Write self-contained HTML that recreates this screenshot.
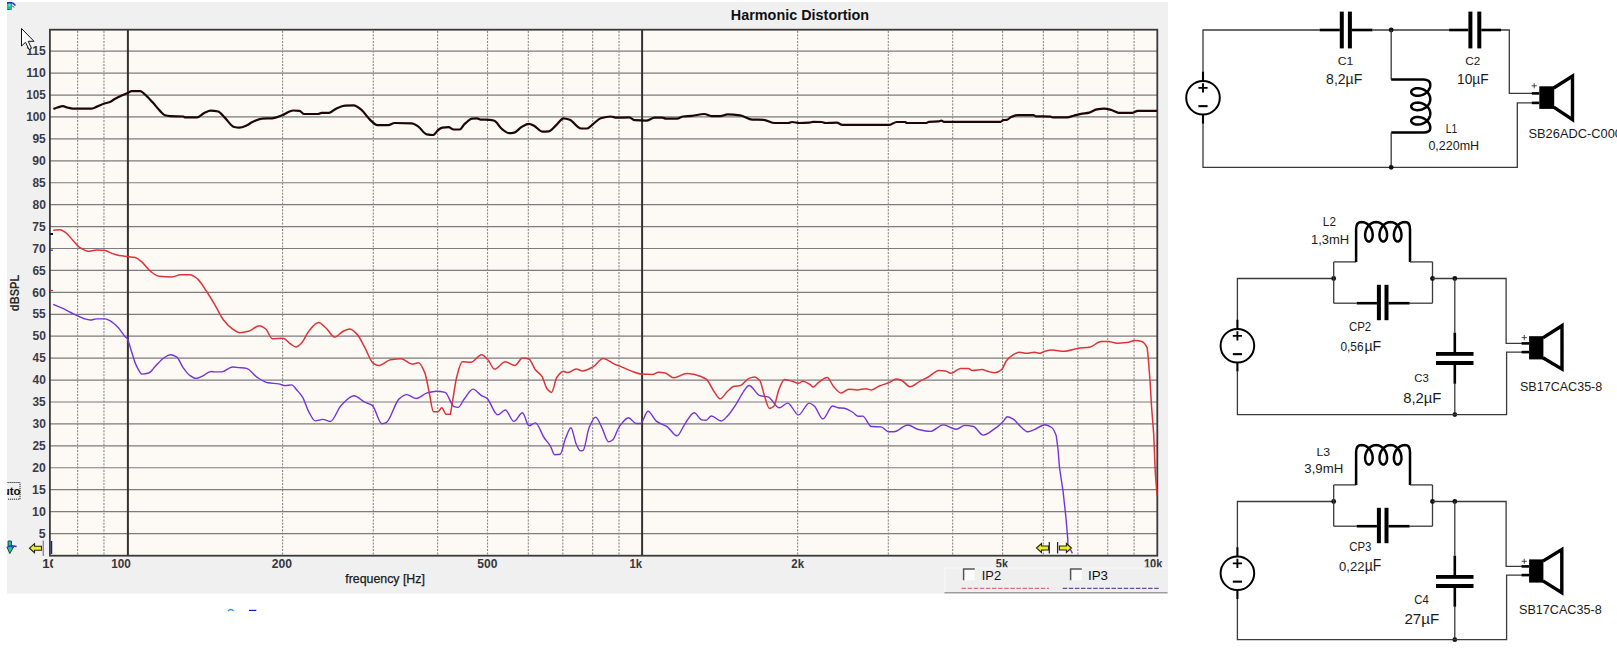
<!DOCTYPE html>
<html><head><meta charset="utf-8"><style>
html,body{margin:0;padding:0;background:#fff;}
body{width:1617px;height:651px;overflow:hidden;}
svg{display:block;}
</style></head><body>
<svg width="1617" height="651" viewBox="0 0 1617 651">
<rect width="1617" height="651" fill="#fff"/>
<rect x="7" y="2" width="1161" height="591.7" fill="#f0f0f0"/>
<rect x="50" y="30" width="1107.5" height="525.5" fill="#fdf9f4"/>
<line x1="50" y1="533.53" x2="1157" y2="533.53" stroke="#7c7c7c" stroke-width="1.2"/>
<line x1="50" y1="511.60" x2="1157" y2="511.60" stroke="#7c7c7c" stroke-width="1.2"/>
<line x1="50" y1="489.68" x2="1157" y2="489.68" stroke="#7c7c7c" stroke-width="1.2"/>
<line x1="50" y1="467.75" x2="1157" y2="467.75" stroke="#7c7c7c" stroke-width="1.2"/>
<line x1="50" y1="445.83" x2="1157" y2="445.83" stroke="#7c7c7c" stroke-width="1.2"/>
<line x1="50" y1="423.90" x2="1157" y2="423.90" stroke="#7c7c7c" stroke-width="1.2"/>
<line x1="50" y1="401.98" x2="1157" y2="401.98" stroke="#7c7c7c" stroke-width="1.2"/>
<line x1="50" y1="380.05" x2="1157" y2="380.05" stroke="#7c7c7c" stroke-width="1.2"/>
<line x1="50" y1="358.13" x2="1157" y2="358.13" stroke="#7c7c7c" stroke-width="1.2"/>
<line x1="50" y1="336.20" x2="1157" y2="336.20" stroke="#7c7c7c" stroke-width="1.2"/>
<line x1="50" y1="314.28" x2="1157" y2="314.28" stroke="#7c7c7c" stroke-width="1.2"/>
<line x1="50" y1="292.35" x2="1157" y2="292.35" stroke="#7c7c7c" stroke-width="1.2"/>
<line x1="50" y1="270.43" x2="1157" y2="270.43" stroke="#7c7c7c" stroke-width="1.2"/>
<line x1="50" y1="248.50" x2="1157" y2="248.50" stroke="#7c7c7c" stroke-width="1.2"/>
<line x1="50" y1="226.58" x2="1157" y2="226.58" stroke="#7c7c7c" stroke-width="1.2"/>
<line x1="50" y1="204.65" x2="1157" y2="204.65" stroke="#7c7c7c" stroke-width="1.2"/>
<line x1="50" y1="182.73" x2="1157" y2="182.73" stroke="#7c7c7c" stroke-width="1.2"/>
<line x1="50" y1="160.80" x2="1157" y2="160.80" stroke="#7c7c7c" stroke-width="1.2"/>
<line x1="50" y1="138.88" x2="1157" y2="138.88" stroke="#7c7c7c" stroke-width="1.2"/>
<line x1="50" y1="116.95" x2="1157" y2="116.95" stroke="#7c7c7c" stroke-width="1.2"/>
<line x1="50" y1="95.03" x2="1157" y2="95.03" stroke="#7c7c7c" stroke-width="1.2"/>
<line x1="50" y1="73.10" x2="1157" y2="73.10" stroke="#7c7c7c" stroke-width="1.2"/>
<line x1="50" y1="51.18" x2="1157" y2="51.18" stroke="#7c7c7c" stroke-width="1.2"/>
<line x1="77.62" y1="31" x2="77.62" y2="555" stroke="#8a8a8a" stroke-width="1.1" stroke-dasharray="2 1.3"/>
<line x1="103.96" y1="31" x2="103.96" y2="555" stroke="#8a8a8a" stroke-width="1.1" stroke-dasharray="2 1.3"/>
<line x1="282.58" y1="31" x2="282.58" y2="555" stroke="#8a8a8a" stroke-width="1.1" stroke-dasharray="2 1.3"/>
<line x1="373.27" y1="31" x2="373.27" y2="555" stroke="#8a8a8a" stroke-width="1.1" stroke-dasharray="2 1.3"/>
<line x1="437.62" y1="31" x2="437.62" y2="555" stroke="#8a8a8a" stroke-width="1.1" stroke-dasharray="2 1.3"/>
<line x1="487.53" y1="31" x2="487.53" y2="555" stroke="#8a8a8a" stroke-width="1.1" stroke-dasharray="2 1.3"/>
<line x1="528.32" y1="31" x2="528.32" y2="555" stroke="#8a8a8a" stroke-width="1.1" stroke-dasharray="2 1.3"/>
<line x1="562.80" y1="31" x2="562.80" y2="555" stroke="#8a8a8a" stroke-width="1.1" stroke-dasharray="2 1.3"/>
<line x1="592.67" y1="31" x2="592.67" y2="555" stroke="#8a8a8a" stroke-width="1.1" stroke-dasharray="2 1.3"/>
<line x1="619.01" y1="31" x2="619.01" y2="555" stroke="#8a8a8a" stroke-width="1.1" stroke-dasharray="2 1.3"/>
<line x1="797.63" y1="31" x2="797.63" y2="555" stroke="#8a8a8a" stroke-width="1.1" stroke-dasharray="2 1.3"/>
<line x1="888.32" y1="31" x2="888.32" y2="555" stroke="#8a8a8a" stroke-width="1.1" stroke-dasharray="2 1.3"/>
<line x1="952.67" y1="31" x2="952.67" y2="555" stroke="#8a8a8a" stroke-width="1.1" stroke-dasharray="2 1.3"/>
<line x1="1002.58" y1="31" x2="1002.58" y2="555" stroke="#8a8a8a" stroke-width="1.1" stroke-dasharray="2 1.3"/>
<line x1="1043.37" y1="31" x2="1043.37" y2="555" stroke="#8a8a8a" stroke-width="1.1" stroke-dasharray="2 1.3"/>
<line x1="1077.85" y1="31" x2="1077.85" y2="555" stroke="#8a8a8a" stroke-width="1.1" stroke-dasharray="2 1.3"/>
<line x1="1107.72" y1="31" x2="1107.72" y2="555" stroke="#8a8a8a" stroke-width="1.1" stroke-dasharray="2 1.3"/>
<line x1="1134.06" y1="31" x2="1134.06" y2="555" stroke="#8a8a8a" stroke-width="1.1" stroke-dasharray="2 1.3"/>
<line x1="127.90" y1="30" x2="127.90" y2="556" stroke="#333" stroke-width="2"/>
<line x1="642.10" y1="30" x2="642.10" y2="556" stroke="#333" stroke-width="2"/>
<rect x="49.9" y="29.7" width="1107.4" height="526" fill="none" stroke="#3a3a3a" stroke-width="1.8"/>
<path d="M53.20,304.30 C56.20,305.60 59.20,306.81 62.20,308.20 C65.07,309.53 67.93,311.08 70.80,312.50 C72.97,313.57 75.13,314.70 77.30,315.70 C79.43,316.69 81.57,317.86 83.70,318.50 C85.87,319.15 88.03,320.00 90.20,320.00 C92.33,320.00 94.47,318.90 96.60,318.90 C99.47,318.90 102.33,318.90 105.20,318.90 C107.00,318.90 108.80,320.11 110.60,321.10 C113.10,322.48 115.60,324.93 118.10,327.50 C120.60,330.07 123.10,334.59 125.60,337.20 C126.13,337.76 126.67,337.88 127.20,338.60 C128.63,340.54 130.07,347.20 131.50,351.50 C132.93,355.80 134.37,361.51 135.80,364.40 C137.93,368.70 140.07,374.10 142.20,374.10 C144.37,374.10 146.53,373.63 148.70,373.00 C150.83,372.38 152.97,368.73 155.10,366.60 C157.97,363.73 160.83,359.93 163.70,358.00 C165.87,356.54 168.03,354.70 170.20,354.70 C172.33,354.70 174.47,355.69 176.60,356.90 C178.77,358.13 180.93,364.61 183.10,367.60 C185.23,370.54 187.37,373.72 189.50,375.20 C191.67,376.71 193.83,378.40 196.00,378.40 C198.13,378.40 200.27,377.10 202.40,376.20 C205.27,374.99 208.13,371.50 211.00,371.50 C212.43,371.50 213.87,371.90 215.30,371.90 C217.47,371.90 219.63,371.90 221.80,371.90 C225.37,371.90 228.93,367.00 232.50,367.00 C234.67,367.00 236.83,367.39 239.00,367.60 C241.50,367.85 244.00,367.93 246.50,368.40 C250.07,369.08 253.63,375.16 257.20,377.40 C260.80,379.66 264.40,382.19 268.00,382.80 C271.57,383.41 275.13,383.37 278.70,383.90 C280.87,384.22 283.03,385.60 285.20,385.60 C287.33,385.60 289.47,384.90 291.60,384.90 C293.40,384.90 295.20,388.24 297.00,390.20 C298.80,392.16 300.60,393.91 302.40,396.80 C304.53,400.23 306.67,408.06 308.80,411.80 C310.97,415.60 313.13,420.90 315.30,420.90 C317.80,420.90 320.30,419.40 322.80,419.40 C325.30,419.40 327.80,421.50 330.30,421.50 C333.90,421.50 337.50,409.00 341.10,405.40 C345.40,401.10 349.70,395.70 354.00,395.70 C357.57,395.70 361.13,400.43 364.70,402.20 C367.23,403.46 369.77,403.65 372.30,405.40 C375.50,407.61 378.70,423.70 381.90,423.70 C383.33,423.70 384.77,423.24 386.20,422.60 C390.50,420.67 394.80,402.62 399.10,398.90 C401.63,396.71 404.17,394.60 406.70,394.60 C409.90,394.60 413.10,398.50 416.30,398.50 C419.90,398.50 423.50,393.82 427.10,392.90 C430.23,392.10 433.37,391.30 436.50,391.30 C439.37,391.30 442.23,391.72 445.10,392.40 C447.97,393.08 450.83,405.03 453.70,406.30 C455.13,406.93 456.57,407.40 458.00,407.40 C460.13,407.40 462.27,401.42 464.40,398.80 C467.27,395.28 470.13,389.10 473.00,389.10 C475.87,389.10 478.73,393.84 481.60,395.60 C483.40,396.71 485.20,397.00 487.00,398.40 C490.57,401.17 494.13,414.90 497.70,414.90 C500.23,414.90 502.77,410.00 505.30,410.00 C508.17,410.00 511.03,421.40 513.90,421.40 C516.77,421.40 519.63,412.80 522.50,412.80 C524.63,412.80 526.77,425.70 528.90,425.70 C531.07,425.70 533.23,422.90 535.40,422.90 C538.27,422.90 541.13,433.20 544.00,437.50 C546.13,440.70 548.27,442.67 550.40,446.10 C551.83,448.40 553.27,454.70 554.70,454.70 C556.50,454.70 558.30,454.56 560.10,454.30 C561.90,454.04 563.70,442.87 565.50,438.60 C567.30,434.33 569.10,427.80 570.90,427.80 C572.67,427.80 574.43,440.28 576.20,444.00 C577.63,447.02 579.07,450.90 580.50,450.90 C581.37,450.90 582.23,450.72 583.10,450.40 C585.10,449.67 587.10,432.38 589.10,427.80 C591.27,422.84 593.43,417.10 595.60,417.10 C597.73,417.10 599.87,423.78 602.00,427.80 C604.17,431.88 606.33,441.80 608.50,441.80 C609.93,441.80 611.37,440.83 612.80,439.70 C614.93,438.02 617.07,429.59 619.20,426.80 C622.33,422.70 625.47,417.70 628.60,417.70 C631.10,417.70 633.60,423.50 636.10,423.50 C637.53,423.50 638.97,423.50 640.40,423.50 C642.93,423.50 645.47,411.30 648.00,411.30 C650.87,411.30 653.73,419.38 656.60,421.40 C660.17,423.92 663.73,424.47 667.30,426.80 C670.53,428.91 673.77,435.80 677.00,435.80 C679.50,435.80 682.00,427.95 684.50,424.60 C687.73,420.26 690.97,412.80 694.20,412.80 C696.70,412.80 699.20,419.48 701.70,419.90 C703.13,420.14 704.57,420.30 706.00,420.30 C707.80,420.30 709.60,416.00 711.40,416.00 C714.63,416.00 717.87,421.00 721.10,421.00 C723.23,421.00 725.37,418.12 727.50,416.00 C730.37,413.15 733.23,408.55 736.10,404.20 C738.63,400.36 741.17,394.67 743.70,391.30 C745.47,388.95 747.23,385.50 749.00,385.50 C752.60,385.50 756.20,394.54 759.80,395.60 C762.67,396.44 765.53,396.25 768.40,397.10 C771.97,398.16 775.53,407.80 779.10,407.80 C781.97,407.80 784.83,403.10 787.70,403.10 C791.30,403.10 794.90,414.90 798.50,414.90 C802.07,414.90 805.63,403.10 809.20,403.10 C810.90,403.10 812.60,404.60 814.30,406.00 C817.17,408.36 820.03,418.90 822.90,418.90 C826.13,418.90 829.37,406.00 832.60,406.00 C834.40,406.00 836.20,407.47 838.00,407.70 C840.13,407.97 842.27,407.91 844.40,408.20 C847.27,408.59 850.13,410.82 853.00,412.50 C854.80,413.55 856.60,416.30 858.40,416.30 C859.83,416.30 861.27,416.10 862.70,416.10 C865.57,416.10 868.43,426.27 871.30,426.50 C874.53,426.76 877.77,426.65 881.00,426.90 C883.50,427.09 886.00,431.80 888.50,431.80 C890.30,431.80 892.10,431.80 893.90,431.80 C898.53,431.80 903.17,425.00 907.80,425.00 C911.03,425.00 914.27,428.41 917.50,429.20 C921.80,430.25 926.10,431.40 930.40,431.40 C934.70,431.40 939.00,424.90 943.30,424.90 C947.60,424.90 951.90,429.20 956.20,429.20 C959.07,429.20 961.93,425.40 964.80,425.40 C967.67,425.40 970.53,425.86 973.40,426.50 C976.63,427.22 979.87,435.10 983.10,435.10 C987.03,435.10 990.97,431.22 994.90,428.60 C997.43,426.91 999.97,424.62 1002.50,422.20 C1004.17,420.61 1005.83,416.70 1007.50,416.70 C1009.30,416.70 1011.10,417.86 1012.90,418.90 C1015.77,420.56 1018.63,425.20 1021.50,427.50 C1023.63,429.21 1025.77,431.80 1027.90,431.80 C1030.07,431.80 1032.23,430.44 1034.40,429.60 C1037.97,428.21 1041.53,424.70 1045.10,424.70 C1047.27,424.70 1049.43,425.99 1051.60,427.50 C1053.17,428.59 1054.73,431.48 1056.30,436.10 L1058.00,449.00 L1059.50,467.60 L1063.10,491.60 L1065.90,517.30 L1067.80,539.40 L1067.80,545.90 C1069.33,545.90 1070.87,550.83 1072.40,553.30" fill="none" stroke="#7434dc" stroke-width="1.4" stroke-linejoin="round"/>
<path d="M53.20,230.30 C55.50,230.10 57.80,229.70 60.10,229.70 C62.23,229.70 64.37,231.72 66.50,233.30 C68.67,234.91 70.83,238.12 73.00,240.40 C75.50,243.03 78.00,246.50 80.50,248.00 C83.00,249.50 85.50,251.20 88.00,251.20 C90.87,251.20 93.73,250.10 96.60,250.10 C99.47,250.10 102.33,250.26 105.20,250.50 C107.37,250.68 109.53,252.54 111.70,253.30 C114.20,254.17 116.70,255.05 119.20,255.50 C122.07,256.01 124.93,256.23 127.80,256.60 C130.30,256.93 132.80,257.05 135.30,257.60 C137.47,258.08 139.63,260.12 141.80,261.90 C144.67,264.25 147.53,269.00 150.40,271.20 C153.27,273.40 156.13,276.01 159.00,276.30 C163.30,276.73 167.60,277.00 171.90,277.00 C174.77,277.00 177.63,274.80 180.50,274.80 C183.73,274.80 186.97,274.80 190.20,274.80 C192.70,274.80 195.20,277.07 197.70,279.10 C200.57,281.42 203.43,286.73 206.30,291.00 C209.17,295.27 212.03,300.07 214.90,304.90 C217.77,309.73 220.63,316.35 223.50,320.00 C226.37,323.65 229.23,326.64 232.10,328.60 C234.73,330.40 237.37,332.70 240.00,332.70 C242.87,332.70 245.73,331.94 248.60,331.20 C252.20,330.27 255.80,325.80 259.40,325.80 C261.53,325.80 263.67,327.40 265.80,329.00 C267.97,330.62 270.13,338.70 272.30,338.70 C275.87,338.70 279.43,338.30 283.00,338.30 C285.53,338.30 288.07,342.40 290.60,344.00 C292.37,345.12 294.13,346.90 295.90,346.90 C298.07,346.90 300.23,344.18 302.40,341.90 C304.53,339.65 306.67,333.67 308.80,331.20 C312.03,327.45 315.27,322.60 318.50,322.60 C321.00,322.60 323.50,325.87 326.00,328.00 C328.87,330.45 331.73,337.00 334.60,337.00 C337.47,337.00 340.33,332.49 343.20,331.20 C345.37,330.22 347.53,329.00 349.70,329.00 C352.20,329.00 354.70,331.86 357.20,334.40 C359.70,336.94 362.20,342.82 364.70,347.30 C367.57,352.44 370.43,361.48 373.30,363.40 C375.10,364.60 376.90,365.60 378.70,365.60 C382.63,365.60 386.57,360.46 390.50,359.80 C394.10,359.19 397.70,358.70 401.30,358.70 C404.87,358.70 408.43,364.10 412.00,364.10 C414.17,364.10 416.33,362.80 418.50,362.80 C420.63,362.80 422.77,368.04 424.90,373.10 C426.33,376.50 427.77,386.05 429.20,392.50 C430.63,398.95 432.07,411.80 433.50,411.80 C434.93,411.80 436.37,411.80 437.80,411.80 C439.13,411.80 440.47,407.80 441.80,407.80 C443.23,407.80 444.67,414.30 446.10,414.30 C447.53,414.30 448.97,414.30 450.40,414.30 L452.60,401.00 C454.03,392.54 455.47,381.43 456.90,376.20 C458.70,369.64 460.50,361.80 462.30,361.80 C465.17,361.80 468.03,362.30 470.90,362.30 C474.47,362.30 478.03,354.70 481.60,354.70 C483.77,354.70 485.93,357.84 488.10,360.10 C490.23,362.33 492.37,369.10 494.50,369.10 C498.10,369.10 501.70,361.80 505.30,361.80 C508.50,361.80 511.70,365.50 514.90,365.50 C517.43,365.50 519.97,358.00 522.50,358.00 C524.63,358.00 526.77,358.39 528.90,359.00 C531.07,359.62 533.23,367.09 535.40,369.80 C537.53,372.46 539.67,373.19 541.80,376.20 C543.60,378.74 545.40,387.01 547.20,389.10 C548.63,390.77 550.07,392.40 551.50,392.40 C553.30,392.40 555.10,379.83 556.90,377.30 C559.03,374.30 561.17,371.30 563.30,371.30 C564.73,371.30 566.17,372.60 567.60,372.60 C570.47,372.60 573.33,369.10 576.20,369.10 C578.37,369.10 580.53,370.90 582.70,370.90 C586.27,370.90 589.83,368.54 593.40,366.60 C596.63,364.84 599.87,358.40 603.10,358.40 C607.03,358.40 610.97,362.82 614.90,364.40 C616.60,365.08 618.30,365.45 620.00,366.10 C623.60,367.47 627.20,369.61 630.80,370.90 C634.37,372.18 637.93,373.86 641.50,374.10 C645.10,374.34 648.70,374.50 652.30,374.50 C654.43,374.50 656.57,372.20 658.70,372.20 C660.87,372.20 663.03,372.56 665.20,373.00 C668.07,373.58 670.93,377.70 673.80,377.70 C678.10,377.70 682.40,373.40 686.70,373.40 C689.57,373.40 692.43,374.07 695.30,374.70 C698.87,375.48 702.43,376.72 706.00,379.00 C708.87,380.83 711.73,388.54 714.60,392.40 C716.40,394.82 718.20,398.80 720.00,398.80 C722.50,398.80 725.00,393.47 727.50,391.30 C729.67,389.42 731.83,386.77 734.00,386.30 C736.13,385.84 738.27,385.96 740.40,385.50 C743.27,384.88 746.13,379.59 749.00,378.40 C750.80,377.65 752.60,376.90 754.40,376.90 C756.20,376.90 758.00,378.51 759.80,380.50 C761.23,382.09 762.67,390.36 764.10,394.50 C765.90,399.70 767.70,408.50 769.50,408.50 C770.93,408.50 772.37,407.57 773.80,406.30 C775.57,404.74 777.33,393.16 779.10,389.10 C780.90,384.97 782.70,379.50 784.50,379.50 C787.00,379.50 789.50,380.53 792.00,381.20 C794.17,381.78 796.33,383.30 798.50,383.30 C799.93,383.30 801.37,381.20 802.80,381.20 C805.20,381.20 807.60,383.09 810.00,384.50 C811.07,385.13 812.13,387.10 813.20,387.10 C815.00,387.10 816.80,383.62 818.60,382.40 C821.47,380.45 824.33,377.60 827.20,377.60 C829.37,377.60 831.53,384.40 833.70,386.70 C836.20,389.35 838.70,393.10 841.20,393.10 C843.70,393.10 846.20,389.20 848.70,389.20 C851.57,389.20 854.43,389.90 857.30,389.90 C860.17,389.90 863.03,388.80 865.90,388.80 C867.70,388.80 869.50,389.90 871.30,389.90 C873.80,389.90 876.30,387.23 878.80,386.20 C882.40,384.72 886.00,383.91 889.60,382.40 C891.73,381.51 893.87,379.10 896.00,379.10 C897.80,379.10 899.60,379.62 901.40,380.20 C904.27,381.12 907.13,386.70 910.00,386.70 C913.23,386.70 916.47,383.00 919.70,381.30 C922.57,379.79 925.43,378.57 928.30,377.00 C931.87,375.04 935.43,370.50 939.00,370.50 C941.17,370.50 943.33,370.72 945.50,371.00 C947.30,371.23 949.10,373.30 950.90,373.30 C954.10,373.30 957.30,368.40 960.50,368.40 C963.03,368.40 965.57,368.40 968.10,368.40 C969.53,368.40 970.97,370.50 972.40,370.50 C975.60,370.50 978.80,369.50 982.00,369.50 C984.17,369.50 986.33,371.11 988.50,371.60 C990.63,372.08 992.77,372.70 994.90,372.70 C997.07,372.70 999.23,371.41 1001.40,369.90 C1003.07,368.74 1004.73,362.84 1006.40,360.80 C1008.57,358.15 1010.73,356.02 1012.90,354.80 C1015.03,353.60 1017.17,352.20 1019.30,352.20 C1021.83,352.20 1024.37,353.30 1026.90,353.30 C1029.40,353.30 1031.90,352.20 1034.40,352.20 C1036.20,352.20 1038.00,353.30 1039.80,353.30 C1041.57,353.30 1043.33,351.62 1045.10,351.20 C1047.27,350.69 1049.43,350.10 1051.60,350.10 C1055.90,350.10 1060.20,351.20 1064.50,351.20 C1068.80,351.20 1073.10,349.05 1077.40,348.40 C1081.70,347.75 1086.00,347.71 1090.30,346.90 C1093.87,346.23 1097.43,341.50 1101.00,341.50 C1103.50,341.50 1106.00,341.50 1108.50,341.50 C1111.37,341.50 1114.23,343.20 1117.10,343.20 C1120.33,343.20 1123.57,342.92 1126.80,342.60 C1129.67,342.31 1132.53,340.40 1135.40,340.40 C1137.53,340.40 1139.67,340.86 1141.80,341.50 C1143.60,342.04 1145.40,344.09 1147.20,347.90 L1148.30,358.70 L1150.00,380.20 L1151.50,406.00 L1153.70,433.90 L1155.20,471.30 L1157.00,495.20" fill="none" stroke="#dd3439" stroke-width="1.5" stroke-linejoin="round"/>
<path d="M53.40,109.10 C54.73,108.57 56.07,107.90 57.40,107.50 C59.23,106.96 61.07,106.20 62.90,106.20 C64.37,106.20 65.83,107.13 67.30,107.50 C69.13,107.96 70.97,108.70 72.80,108.70 C78.80,108.70 84.80,108.70 90.80,108.70 C92.87,108.70 94.93,107.37 97.00,106.60 C99.47,105.68 101.93,104.26 104.40,103.50 C106.03,103.00 107.67,102.87 109.30,102.30 C110.97,101.71 112.63,100.12 114.30,99.20 C116.77,97.83 119.23,96.60 121.70,95.50 C123.77,94.58 125.83,93.93 127.90,93.00 C129.13,92.44 130.37,91.10 131.60,91.10 C134.47,91.10 137.33,91.10 140.20,91.10 C141.47,91.10 142.73,92.59 144.00,93.60 C146.87,95.89 149.73,99.20 152.60,102.30 C155.07,104.97 157.53,108.43 160.00,110.90 C161.67,112.57 163.33,114.84 165.00,115.30 C166.63,115.75 168.27,116.02 169.90,116.10 C174.43,116.33 178.97,116.24 183.50,116.50 C183.93,116.52 184.37,117.40 184.80,117.40 C188.90,117.40 193.00,117.40 197.10,117.40 C199.60,117.40 202.10,113.90 204.60,112.80 C206.63,111.90 208.67,110.70 210.70,110.70 C213.20,110.70 215.70,111.02 218.20,111.50 C220.23,111.89 222.27,115.15 224.30,117.10 C227.60,120.26 230.90,126.29 234.20,127.00 C235.87,127.36 237.53,127.60 239.20,127.60 C241.93,127.60 244.67,126.22 247.40,125.10 C249.07,124.42 250.73,122.74 252.40,122.00 C255.70,120.54 259.00,118.78 262.30,118.60 C265.60,118.42 268.90,118.48 272.20,118.30 C275.50,118.12 278.80,116.56 282.10,115.30 C284.57,114.36 287.03,112.37 289.50,111.50 C290.73,111.06 291.97,110.50 293.20,110.50 C295.27,110.50 297.33,110.66 299.40,110.90 C301.03,111.09 302.67,114.00 304.30,114.00 C308.83,114.00 313.37,114.00 317.90,114.00 C319.13,114.00 320.37,112.80 321.60,112.80 C324.10,112.80 326.60,112.80 329.10,112.80 C331.57,112.80 334.03,109.41 336.50,108.40 C339.37,107.22 342.23,105.88 345.10,105.70 C348.00,105.52 350.90,105.40 353.80,105.40 C356.27,105.40 358.73,107.80 361.20,109.70 C364.10,111.93 367.00,116.99 369.90,119.60 C372.37,121.82 374.83,125.10 377.30,125.10 C381.00,125.10 384.70,125.10 388.40,125.10 C390.47,125.10 392.53,123.00 394.60,123.00 C400.37,123.00 406.13,123.11 411.90,123.30 C413.97,123.37 416.03,125.06 418.10,126.40 C421.00,128.28 423.90,133.89 426.80,134.40 C428.87,134.76 430.93,135.00 433.00,135.00 C434.90,135.00 436.80,130.77 438.70,129.50 C439.93,128.67 441.17,127.74 442.40,127.60 C444.47,127.36 446.53,127.20 448.60,127.20 C450.27,127.20 451.93,129.50 453.60,129.50 C455.63,129.50 457.67,129.50 459.70,129.50 C461.37,129.50 463.03,125.36 464.70,123.90 C467.17,121.74 469.63,118.87 472.10,118.60 C473.77,118.42 475.43,118.30 477.10,118.30 C478.33,118.30 479.57,119.55 480.80,119.60 C483.67,119.73 486.53,119.68 489.40,119.80 C491.07,119.87 492.73,120.24 494.40,120.80 C496.87,121.63 499.33,127.03 501.80,128.90 C504.27,130.77 506.73,133.20 509.20,133.20 C510.87,133.20 512.53,132.95 514.20,132.60 C516.67,132.09 519.13,128.33 521.60,127.00 C524.07,125.67 526.53,123.90 529.00,123.90 C530.67,123.90 532.33,124.98 534.00,125.80 C536.87,127.20 539.73,131.70 542.60,131.70 C544.67,131.70 546.73,131.55 548.80,131.30 C551.27,131.00 553.73,127.26 556.20,125.10 C558.67,122.94 561.13,118.30 563.60,118.30 C565.67,118.30 567.73,119.04 569.80,119.80 C573.50,121.17 577.20,128.50 580.90,128.50 C582.97,128.50 585.03,128.50 587.10,128.50 C589.17,128.50 591.23,125.45 593.30,123.90 C595.77,122.05 598.23,119.02 600.70,118.30 C604.00,117.33 607.30,116.50 610.60,116.50 C612.67,116.50 614.73,117.70 616.80,117.70 C620.93,117.70 625.07,117.40 629.20,117.40 C631.10,117.40 633.00,120.07 634.90,120.20 C638.63,120.45 642.37,120.60 646.10,120.60 C648.97,120.60 651.83,117.70 654.70,117.70 C657.20,117.70 659.70,117.70 662.20,117.70 C663.43,117.70 664.67,118.60 665.90,118.60 C669.60,118.60 673.30,118.60 677.00,118.60 C679.07,118.60 681.13,116.74 683.20,116.50 C686.07,116.17 688.93,116.17 691.80,115.90 C695.93,115.50 700.07,114.00 704.20,114.00 C706.67,114.00 709.13,116.10 711.60,116.10 C714.50,116.10 717.40,116.10 720.30,116.10 C722.77,116.10 725.23,114.40 727.70,114.40 C731.83,114.40 735.97,114.80 740.10,115.30 C744.20,115.79 748.30,119.46 752.40,119.60 C756.13,119.73 759.87,119.67 763.60,119.80 C767.30,119.92 771.00,123.00 774.70,123.00 C779.23,123.00 783.77,123.00 788.30,123.00 C789.53,123.00 790.77,122.00 792.00,122.00 C794.50,122.00 797.00,123.00 799.50,123.00 C802.77,123.00 806.03,122.88 809.30,122.70 C810.57,122.63 811.83,121.80 813.10,121.80 C815.97,121.80 818.83,121.88 821.70,122.00 C822.93,122.05 824.17,123.00 825.40,123.00 C829.20,123.00 833.00,122.70 836.80,122.70 C838.63,122.70 840.47,124.80 842.30,124.80 C857.97,124.80 873.63,124.80 889.30,124.80 C891.77,124.80 894.23,122.00 896.70,122.00 C899.60,122.00 902.50,122.00 905.40,122.00 C905.80,122.00 906.20,123.00 906.60,123.00 C913.20,123.00 919.80,123.00 926.40,123.00 C927.23,123.00 928.07,121.86 928.90,121.80 C932.20,121.55 935.50,121.64 938.80,121.40 C939.63,121.34 940.47,120.60 941.30,120.60 C942.10,120.60 942.90,121.80 943.70,121.80 C962.67,121.80 981.63,121.80 1000.60,121.80 C1001.43,121.80 1002.27,120.35 1003.10,120.20 C1004.33,119.97 1005.57,120.03 1006.80,119.80 C1008.40,119.51 1010.00,117.38 1011.60,116.80 C1013.70,116.04 1015.80,115.20 1017.90,115.20 C1023.13,115.20 1028.37,115.20 1033.60,115.20 C1034.30,115.20 1035.00,116.27 1035.70,116.30 C1040.63,116.49 1045.57,116.41 1050.50,116.60 C1051.20,116.63 1051.90,117.30 1052.60,117.30 C1057.50,117.30 1062.40,117.30 1067.30,117.30 C1069.40,117.30 1071.50,116.22 1073.60,115.70 C1076.07,115.09 1078.53,114.37 1081.00,113.90 C1083.80,113.37 1086.60,113.24 1089.40,112.60 C1091.83,112.04 1094.27,109.82 1096.70,109.40 C1099.17,108.97 1101.63,108.60 1104.10,108.60 C1106.53,108.60 1108.97,109.38 1111.40,110.00 C1113.87,110.63 1116.33,112.80 1118.80,112.80 C1123.37,112.80 1127.93,112.80 1132.50,112.80 C1134.23,112.80 1135.97,110.80 1137.70,110.80 C1144.20,110.80 1150.70,110.80 1157.20,110.80" fill="none" stroke="#1e0606" stroke-width="2.2" stroke-linejoin="round"/>
<text x="800" y="20" font-family="'Liberation Sans', sans-serif" font-size="14.4" font-weight="bold" fill="#111" text-anchor="middle">Harmonic Distortion</text>
<text x="38.83" y="537.73" font-family="'Liberation Sans', sans-serif" font-size="12.32" font-weight="bold" fill="#3a3a44" textLength="6.90" lengthAdjust="spacingAndGlyphs">5</text>
<text x="32.05" y="515.80" font-family="'Liberation Sans', sans-serif" font-size="12.14" font-weight="bold" fill="#3a3a44" textLength="13.88" lengthAdjust="spacingAndGlyphs">10</text>
<text x="32.06" y="493.88" font-family="'Liberation Sans', sans-serif" font-size="12.32" font-weight="bold" fill="#3a3a44" textLength="13.67" lengthAdjust="spacingAndGlyphs">15</text>
<text x="32.37" y="471.95" font-family="'Liberation Sans', sans-serif" font-size="12.14" font-weight="bold" fill="#3a3a44" textLength="13.54" lengthAdjust="spacingAndGlyphs">20</text>
<text x="32.38" y="450.03" font-family="'Liberation Sans', sans-serif" font-size="12.14" font-weight="bold" fill="#3a3a44" textLength="13.35" lengthAdjust="spacingAndGlyphs">25</text>
<text x="32.50" y="428.10" font-family="'Liberation Sans', sans-serif" font-size="12.14" font-weight="bold" fill="#3a3a44" textLength="13.41" lengthAdjust="spacingAndGlyphs">30</text>
<text x="32.50" y="406.18" font-family="'Liberation Sans', sans-serif" font-size="12.14" font-weight="bold" fill="#3a3a44" textLength="13.22" lengthAdjust="spacingAndGlyphs">35</text>
<text x="32.62" y="384.25" font-family="'Liberation Sans', sans-serif" font-size="12.14" font-weight="bold" fill="#3a3a44" textLength="13.28" lengthAdjust="spacingAndGlyphs">40</text>
<text x="32.62" y="362.33" font-family="'Liberation Sans', sans-serif" font-size="12.32" font-weight="bold" fill="#3a3a44" textLength="13.10" lengthAdjust="spacingAndGlyphs">45</text>
<text x="32.44" y="340.40" font-family="'Liberation Sans', sans-serif" font-size="12.14" font-weight="bold" fill="#3a3a44" textLength="13.48" lengthAdjust="spacingAndGlyphs">50</text>
<text x="32.44" y="318.48" font-family="'Liberation Sans', sans-serif" font-size="12.32" font-weight="bold" fill="#3a3a44" textLength="13.28" lengthAdjust="spacingAndGlyphs">55</text>
<text x="32.37" y="296.55" font-family="'Liberation Sans', sans-serif" font-size="12.14" font-weight="bold" fill="#3a3a44" textLength="13.54" lengthAdjust="spacingAndGlyphs">60</text>
<text x="32.38" y="274.63" font-family="'Liberation Sans', sans-serif" font-size="12.14" font-weight="bold" fill="#3a3a44" textLength="13.35" lengthAdjust="spacingAndGlyphs">65</text>
<text x="32.31" y="252.70" font-family="'Liberation Sans', sans-serif" font-size="12.14" font-weight="bold" fill="#3a3a44" textLength="13.61" lengthAdjust="spacingAndGlyphs">70</text>
<text x="32.32" y="230.78" font-family="'Liberation Sans', sans-serif" font-size="12.32" font-weight="bold" fill="#3a3a44" textLength="13.41" lengthAdjust="spacingAndGlyphs">75</text>
<text x="32.44" y="208.85" font-family="'Liberation Sans', sans-serif" font-size="12.14" font-weight="bold" fill="#3a3a44" textLength="13.48" lengthAdjust="spacingAndGlyphs">80</text>
<text x="32.44" y="186.93" font-family="'Liberation Sans', sans-serif" font-size="12.14" font-weight="bold" fill="#3a3a44" textLength="13.28" lengthAdjust="spacingAndGlyphs">85</text>
<text x="32.37" y="165.00" font-family="'Liberation Sans', sans-serif" font-size="12.14" font-weight="bold" fill="#3a3a44" textLength="13.54" lengthAdjust="spacingAndGlyphs">90</text>
<text x="32.38" y="143.08" font-family="'Liberation Sans', sans-serif" font-size="12.14" font-weight="bold" fill="#3a3a44" textLength="13.35" lengthAdjust="spacingAndGlyphs">95</text>
<text x="26.19" y="121.15" font-family="'Liberation Sans', sans-serif" font-size="12.14" font-weight="bold" fill="#3a3a44" textLength="19.72" lengthAdjust="spacingAndGlyphs">100</text>
<text x="26.20" y="99.23" font-family="'Liberation Sans', sans-serif" font-size="12.14" font-weight="bold" fill="#3a3a44" textLength="19.54" lengthAdjust="spacingAndGlyphs">105</text>
<text x="26.16" y="77.30" font-family="'Liberation Sans', sans-serif" font-size="12.14" font-weight="bold" fill="#3a3a44" textLength="19.77" lengthAdjust="spacingAndGlyphs">110</text>
<text x="26.17" y="55.38" font-family="'Liberation Sans', sans-serif" font-size="12.32" font-weight="bold" fill="#3a3a44" textLength="19.57" lengthAdjust="spacingAndGlyphs">115</text>
<g transform="translate(19.5,310.7) rotate(-90)"><text x="-0.44" y="-0.20" font-family="'Liberation Sans', sans-serif" font-size="12.41" font-weight="bold" fill="#2a2a2a" textLength="36.31" lengthAdjust="spacingAndGlyphs">dBSPL</text></g>
<rect x="50" y="233" width="3" height="2" fill="#111"/>
<rect x="50" y="249.6" width="3" height="1.2" fill="#3030c0"/>
<rect x="50" y="289.9" width="3" height="1.2" fill="#c03030"/>
<text x="111.19" y="567.70" font-family="'Liberation Sans', sans-serif" font-size="13.14" font-weight="bold" fill="#36363e" textLength="19.62" lengthAdjust="spacingAndGlyphs">100</text>
<text x="271.68" y="567.70" font-family="'Liberation Sans', sans-serif" font-size="13.14" font-weight="bold" fill="#36363e" textLength="20.25" lengthAdjust="spacingAndGlyphs">200</text>
<text x="477.34" y="567.70" font-family="'Liberation Sans', sans-serif" font-size="13.14" font-weight="bold" fill="#36363e" textLength="20.08" lengthAdjust="spacingAndGlyphs">500</text>
<text x="629.52" y="567.70" font-family="'Liberation Sans', sans-serif" font-size="12.69" font-weight="bold" fill="#36363e" textLength="12.61" lengthAdjust="spacingAndGlyphs">1k</text>
<text x="791.30" y="567.70" font-family="'Liberation Sans', sans-serif" font-size="12.69" font-weight="bold" fill="#36363e" textLength="12.73" lengthAdjust="spacingAndGlyphs">2k</text>
<text x="995.87" y="567.70" font-family="'Liberation Sans', sans-serif" font-size="12.69" font-weight="bold" fill="#36363e" textLength="12.15" lengthAdjust="spacingAndGlyphs">5k</text>
<text x="1143.93" y="567.70" font-family="'Liberation Sans', sans-serif" font-size="12.69" font-weight="bold" fill="#36363e" textLength="18.50" lengthAdjust="spacingAndGlyphs">10k</text>
<clipPath id="c10"><rect x="30" y="550" width="23.2" height="25"/></clipPath>
<text x="42.31" y="567.70" font-family="'Liberation Sans', sans-serif" font-size="13.14" font-weight="bold" fill="#333" textLength="14.65" lengthAdjust="spacingAndGlyphs" clip-path="url(#c10)">10</text>
<text x="345.31" y="583.00" font-family="'Liberation Sans', sans-serif" font-size="11.86" fill="#1a1a1a" textLength="79.58" lengthAdjust="spacingAndGlyphs" stroke="#1a1a1a" stroke-width="0.25">frequency [Hz]</text>
<rect x="944.5" y="567.5" width="223" height="25.5" fill="#efefef"/>
<line x1="945" y1="568" x2="1167" y2="568" stroke="#fafafa" stroke-width="1"/>
<line x1="945" y1="568" x2="945" y2="592" stroke="#fafafa" stroke-width="1"/>
<line x1="944.5" y1="592.8" x2="1167.5" y2="592.8" stroke="#7a7a7a" stroke-width="1"/>
<rect x="962.8" y="568.3" width="12" height="12" fill="#fbfbfb"/>
<path d="M963.5999999999999,580.3 V569.0999999999999 H974.8" fill="none" stroke="#555" stroke-width="1.5"/>
<rect x="1069.8" y="568.3" width="12" height="12" fill="#fbfbfb"/>
<path d="M1070.6,580.3 V569.0999999999999 H1081.8" fill="none" stroke="#555" stroke-width="1.5"/>
<text x="981.74" y="579.60" font-family="'Liberation Sans', sans-serif" font-size="13.29" fill="#111" textLength="19.31" lengthAdjust="spacingAndGlyphs">IP2</text>
<text x="1088.00" y="579.60" font-family="'Liberation Sans', sans-serif" font-size="13.29" fill="#111" textLength="20.05" lengthAdjust="spacingAndGlyphs">IP3</text>
<line x1="961.5" y1="588.3" x2="1049" y2="588.3" stroke="#e0707c" stroke-width="1.3" stroke-dasharray="4.5 1.6"/>
<line x1="1062.7" y1="588.3" x2="1159.3" y2="588.3" stroke="#6c4c9c" stroke-width="1.3" stroke-dasharray="4.5 1.6"/>
<path d="M29.5,548.2 L34.5,543.7 V546.2 H41.5 V550.2 H34.5 V552.7 Z" fill="#eeee22" stroke="#262610" stroke-width="1.1"/>
<line x1="43.3" y1="540.5" x2="43.3" y2="556" stroke="#8878c0" stroke-width="1.3"/>
<line x1="51.5" y1="541" x2="51.5" y2="554" stroke="#202080" stroke-width="1.5"/>
<path d="M1036.5,548 L1041.5,543.5 V546 H1048.5 V550 H1041.5 V552.5 Z" fill="#eeee22" stroke="#262610" stroke-width="1.1"/>
<line x1="1049.3" y1="542" x2="1049.3" y2="553.5" stroke="#26265a" stroke-width="1.3"/>
<line x1="1057.6" y1="542" x2="1057.6" y2="553.5" stroke="#26265a" stroke-width="1.3"/>
<path d="M1071.4,548 L1066.4,543.5 V546 H1059.4 V550 H1066.4 V552.5 Z" fill="#eeee22" stroke="#262610" stroke-width="1.1"/>
<path d="M8.1,541 H11.4 V547 H13.6 L9.8,553.6 L6.9,547 H8.1 Z" fill="#20c0b0" stroke="#0a3a3a" stroke-width="0.9"/>
<path d="M8.3,546.5 L11.5,545.8 L16.6,546.4" stroke="#2a30d0" stroke-width="1.5" fill="none"/>
<path d="M7.5,482.5 H20 V499.2 H7.5" fill="none" stroke="#222" stroke-width="1" stroke-dasharray="1.2 0.8"/>
<clipPath id="cauto"><rect x="7" y="480" width="15" height="20"/></clipPath>
<text x="20.6" y="494.6" font-family="'Liberation Sans', sans-serif" font-size="11.5" font-weight="bold" fill="#111" text-anchor="end" clip-path="url(#cauto)">uto</text>
<rect x="7" y="2" width="5" height="8" fill="#1fb8a8"/>
<rect x="7" y="2" width="5" height="1.6" fill="#2020a0"/>
<rect x="8.5" y="3.5" width="2" height="3" fill="#40f0e0"/>
<path d="M7.5,9.5 h2" stroke="#063" stroke-width="1"/>
<path d="M12.3,2.6 L15.5,5.5" stroke="#3030c0" stroke-width="1.6"/>
<path d="M12,5.5 L14,7.5" stroke="#303030" stroke-width="1"/>
<path d="M21.5,28.5 L21.5,46 L25.5,42.3 L29,49.5 L31.5,48.3 L28.2,41.3 L34,41.3 Z" fill="#fff" stroke="#111" stroke-width="1"/>
<line x1="248.9" y1="610.4" x2="256.3" y2="610.4" stroke="#0020e0" stroke-width="1.2"/>
<path d="M228,611 q2.8,-3 5.6,0" stroke="#3890c8" stroke-width="1.4" fill="none"/>
<polyline points="1203.0,71.5 1203.0,30.0 1319.6,30.0" stroke="#3a3a3a" stroke-width="1.3" fill="none"/>
<polyline points="1319.6,30.0 1339.8,30.0" stroke="#000" stroke-width="2.6" fill="none"/>
<rect x="1339.8" y="11.6" width="4.00" height="36.80" fill="#000"/>
<rect x="1347.9" y="11.6" width="4.00" height="36.80" fill="#000"/>
<polyline points="1351.9,30.0 1372.6,30.0" stroke="#000" stroke-width="2.6" fill="none"/>
<polyline points="1372.6,30.0 1449.1,30.0" stroke="#3a3a3a" stroke-width="1.3" fill="none"/>
<circle cx="1391.2" cy="30" r="2.4" fill="#111"/>
<polyline points="1449.1,30.0 1468.4,30.0" stroke="#000" stroke-width="2.6" fill="none"/>
<rect x="1468.4" y="11.6" width="4.00" height="36.80" fill="#000"/>
<rect x="1477.3" y="11.6" width="4.00" height="36.80" fill="#000"/>
<polyline points="1481.3,30.0 1501.1,30.0" stroke="#000" stroke-width="2.6" fill="none"/>
<polyline points="1501.1,30.0 1509.3,30.0 1509.3,93.4 1532.0,93.4" stroke="#3a3a3a" stroke-width="1.3" fill="none"/>
<polyline points="1532.0,102.9 1517.3,102.9 1517.3,167.3 1203.0,167.3 1203.0,123.8" stroke="#3a3a3a" stroke-width="1.3" fill="none"/>
<circle cx="1203" cy="97.75" r="16.8" fill="none" stroke="#000" stroke-width="2"/>
<path d="M1203,71.5 V80.95 M1203,114.55 V123.8" stroke="#000" stroke-width="2.1"/>
<path d="M1198.4,87.85 h9.2 M1203,83.25 v9.2" stroke="#000" stroke-width="1.9"/>
<path d="M1198.4,106.15 h9.2" stroke="#000" stroke-width="2.1"/>
<polyline points="1391.2,30.0 1391.2,79.5" stroke="#3a3a3a" stroke-width="1.3" fill="none"/>
<path d="M1391.2,79.5 H1423.3 C1428.8,79.5 1430.3,82.0 1430.3,84.8 L1430.25,85.77 1430.09,86.73 1429.83,87.68 1429.47,88.61 1429.02,89.50 1428.48,90.35 1427.85,91.16 1427.14,91.92 1426.36,92.62 1425.53,93.26 1424.63,93.83 1423.70,94.34 1422.74,94.76 1421.75,95.12 1420.75,95.40 1419.75,95.60 1418.76,95.72 1417.80,95.77 1416.87,95.75 1415.97,95.66 1415.14,95.50 1414.36,95.28 1413.65,95.00 1413.02,94.67 1412.48,94.30 1412.03,93.88 1411.67,93.44 1411.41,92.97 1411.25,92.49 1411.20,91.99 1411.25,91.50 1411.41,91.02 1411.67,90.55 1412.03,90.11 1412.48,89.69 1413.02,89.32 1413.65,88.99 1414.36,88.71 1415.14,88.49 1415.97,88.33 1416.87,88.24 1417.80,88.21 1418.76,88.26 1419.75,88.39 1420.75,88.59 1421.75,88.87 1422.74,89.22 1423.70,89.65 1424.63,90.16 1425.53,90.73 1426.36,91.37 1427.14,92.07 1427.85,92.83 1428.48,93.64 1429.02,94.49 1429.47,95.38 1429.83,96.31 1430.09,97.25 1430.25,98.22 1430.30,99.19 1430.25,100.16 1430.09,101.12 1429.83,102.07 1429.47,102.99 1429.02,103.89 1428.48,104.74 1427.85,105.55 1427.14,106.31 1426.36,107.01 1425.53,107.65 1424.63,108.22 1423.70,108.72 1422.74,109.15 1421.75,109.51 1420.75,109.79 1419.75,109.99 1418.76,110.11 1417.80,110.16 1416.87,110.14 1415.97,110.05 1415.14,109.89 1414.36,109.67 1413.65,109.39 1413.02,109.06 1412.48,108.68 1412.03,108.27 1411.67,107.83 1411.41,107.36 1411.25,106.87 1411.20,106.38 1411.25,105.89 1411.41,105.41 1411.67,104.94 1412.03,104.49 1412.48,104.08 1413.02,103.71 1413.65,103.38 1414.36,103.10 1415.14,102.88 1415.97,102.72 1416.87,102.63 1417.80,102.60 1418.76,102.65 1419.75,102.78 1420.75,102.98 1421.75,103.26 1422.74,103.61 1423.70,104.04 1424.63,104.54 1425.53,105.12 1426.36,105.76 1427.14,106.46 1427.85,107.21 1428.48,108.02 1429.02,108.88 1429.47,109.77 1429.83,110.69 1430.09,111.64 1430.25,112.61 1430.30,113.58 1430.25,114.55 1430.09,115.51 1429.83,116.46 1429.47,117.38 1429.02,118.28 1428.48,119.13 1427.85,119.94 1427.14,120.70 1426.36,121.40 1425.53,122.04 1424.63,122.61 1423.70,123.11 1422.74,123.54 1421.75,123.90 1420.75,124.17 1419.75,124.38 1418.76,124.50 1417.80,124.55 1416.87,124.53 1415.97,124.44 1415.14,124.28 1414.36,124.05 1413.65,123.78 1413.02,123.45 1412.48,123.07 1412.03,122.66 1411.67,122.21 1411.41,121.75 1411.25,121.26 1411.20,120.77 1411.25,120.28 1411.41,119.80 1411.67,119.33 1412.03,118.88 1412.48,118.47 1413.02,118.10 1413.65,117.77 1414.36,117.49 1415.14,117.27 1415.97,117.11 1416.87,117.01 1417.80,116.99 1418.76,117.04 1419.75,117.17 1420.75,117.37 1421.75,117.65 1422.74,118.00 1423.70,118.43 1424.63,118.93 1425.53,119.51 1426.36,120.14 1427.14,120.85 1427.85,121.60 1428.48,122.41 1429.02,123.27 1429.47,124.16 1429.83,125.08 1430.09,126.03 1430.25,126.99 1430.30,127.97 C1430.3,130.0 1428.8,132.5 1423.3,132.5 H1391.2" fill="none" stroke="#000" stroke-width="2.5" stroke-linejoin="round"/>
<polyline points="1391.2,132.5 1391.2,167.3" stroke="#3a3a3a" stroke-width="1.3" fill="none"/>
<circle cx="1391.2" cy="167.3" r="2.4" fill="#111"/>
<rect x="1539.3" y="86.3" width="14.90" height="22.60" fill="#000"/>
<path d="M1553.7,88.0 L1572.5,76.0 L1572.5,119.7 L1553.7,107.2" fill="none" stroke="#000" stroke-width="3.4" stroke-linejoin="miter" stroke-miterlimit="10"/>
<polyline points="1531.8,93.4 1539.3,93.4" stroke="#000" stroke-width="2.6" fill="none"/>
<polyline points="1531.8,102.9 1539.3,102.9" stroke="#000" stroke-width="2.6" fill="none"/>
<path d="M1531.6000000000001,85.8 h5.2 M1534.2,83.2 v5.2" stroke="#333" stroke-width="0.9"/>
<polyline points="1237.4,320.2 1237.4,278.5 1333.7,278.5" stroke="#3a3a3a" stroke-width="1.3" fill="none"/>
<circle cx="1333.7" cy="278.5" r="2.4" fill="#111"/>
<polyline points="1333.7,261.9 1333.7,303.2" stroke="#3a3a3a" stroke-width="1.3" fill="none"/>
<polyline points="1333.7,261.9 1356.1,261.9" stroke="#3a3a3a" stroke-width="1.3" fill="none"/>
<path d="M1356.1,261.9 V229.1 C1356.1,223.6 1358.6,222.1 1361.7,222.1 L1362.67,222.15 1363.63,222.31 1364.58,222.57 1365.51,222.94 1366.40,223.40 1367.25,223.95 1368.06,224.59 1368.82,225.31 1369.52,226.10 1370.16,226.95 1370.73,227.85 1371.24,228.80 1371.66,229.78 1372.02,230.79 1372.30,231.80 1372.50,232.81 1372.62,233.82 1372.67,234.80 1372.65,235.75 1372.56,236.65 1372.40,237.50 1372.18,238.29 1371.90,239.01 1371.57,239.65 1371.20,240.20 1370.78,240.66 1370.34,241.03 1369.87,241.29 1369.39,241.45 1368.89,241.50 1368.40,241.45 1367.92,241.29 1367.45,241.03 1367.01,240.66 1366.59,240.20 1366.22,239.65 1365.89,239.01 1365.61,238.29 1365.39,237.50 1365.23,236.65 1365.14,235.75 1365.11,234.80 1365.16,233.82 1365.29,232.81 1365.49,231.80 1365.77,230.79 1366.12,229.78 1366.55,228.80 1367.06,227.85 1367.63,226.95 1368.27,226.10 1368.97,225.31 1369.73,224.59 1370.54,223.95 1371.39,223.40 1372.28,222.94 1373.21,222.57 1374.15,222.31 1375.12,222.15 1376.09,222.10 1377.06,222.15 1378.02,222.31 1378.97,222.57 1379.89,222.94 1380.79,223.40 1381.64,223.95 1382.45,224.59 1383.21,225.31 1383.91,226.10 1384.55,226.95 1385.12,227.85 1385.62,228.80 1386.05,229.78 1386.41,230.79 1386.69,231.80 1386.89,232.81 1387.01,233.82 1387.06,234.80 1387.04,235.75 1386.95,236.65 1386.79,237.50 1386.57,238.29 1386.29,239.01 1385.96,239.65 1385.58,240.20 1385.17,240.66 1384.73,241.03 1384.26,241.29 1383.77,241.45 1383.28,241.50 1382.79,241.45 1382.31,241.29 1381.84,241.03 1381.39,240.66 1380.98,240.20 1380.61,239.65 1380.28,239.01 1380.00,238.29 1379.78,237.50 1379.62,236.65 1379.53,235.75 1379.50,234.80 1379.55,233.82 1379.68,232.81 1379.88,231.80 1380.16,230.79 1380.51,229.78 1380.94,228.80 1381.44,227.85 1382.02,226.95 1382.66,226.10 1383.36,225.31 1384.11,224.59 1384.92,223.95 1385.78,223.40 1386.67,222.94 1387.59,222.57 1388.54,222.31 1389.51,222.15 1390.48,222.10 1391.45,222.15 1392.41,222.31 1393.36,222.57 1394.28,222.94 1395.18,223.40 1396.03,223.95 1396.84,224.59 1397.60,225.31 1398.30,226.10 1398.94,226.95 1399.51,227.85 1400.01,228.80 1400.44,229.78 1400.80,230.79 1401.07,231.80 1401.28,232.81 1401.40,233.82 1401.45,234.80 1401.43,235.75 1401.34,236.65 1401.18,237.50 1400.95,238.29 1400.68,239.01 1400.35,239.65 1399.97,240.20 1399.56,240.66 1399.11,241.03 1398.65,241.29 1398.16,241.45 1397.67,241.50 1397.18,241.45 1396.70,241.29 1396.23,241.03 1395.78,240.66 1395.37,240.20 1395.00,239.65 1394.67,239.01 1394.39,238.29 1394.17,237.50 1394.01,236.65 1393.91,235.75 1393.89,234.80 1393.94,233.82 1394.07,232.81 1394.27,231.80 1394.55,230.79 1394.90,229.78 1395.33,228.80 1395.83,227.85 1396.41,226.95 1397.04,226.10 1397.75,225.31 1398.50,224.59 1399.31,223.95 1400.17,223.40 1401.06,222.94 1401.98,222.57 1402.93,222.31 1403.89,222.15 1404.87,222.10 C1407.5,222.1 1410,223.6 1410,229.1 V261.9" fill="none" stroke="#000" stroke-width="2.5" stroke-linejoin="round"/>
<polyline points="1410.0,261.9 1432.5,261.9" stroke="#3a3a3a" stroke-width="1.3" fill="none"/>
<polyline points="1333.7,303.2 1356.7,303.2" stroke="#3a3a3a" stroke-width="1.3" fill="none"/>
<polyline points="1356.7,303.2 1376.9,303.2" stroke="#000" stroke-width="2.6" fill="none"/>
<rect x="1376.9" y="284.8" width="4.00" height="35.40" fill="#000"/>
<rect x="1384.5" y="284.8" width="4.00" height="35.40" fill="#000"/>
<polyline points="1388.5,303.2 1409.7,303.2" stroke="#000" stroke-width="2.6" fill="none"/>
<polyline points="1409.7,303.2 1432.5,303.2" stroke="#3a3a3a" stroke-width="1.3" fill="none"/>
<polyline points="1432.5,261.9 1432.5,303.2" stroke="#3a3a3a" stroke-width="1.3" fill="none"/>
<circle cx="1432.5" cy="278.5" r="2.4" fill="#111"/>
<polyline points="1432.5,278.5 1506.1,278.5 1506.1,343.4 1522.0,343.4" stroke="#3a3a3a" stroke-width="1.3" fill="none"/>
<circle cx="1454.8" cy="278.5" r="2.4" fill="#111"/>
<polyline points="1454.8,278.5 1454.8,332.6" stroke="#3a3a3a" stroke-width="1.3" fill="none"/>
<polyline points="1454.8,332.6 1454.8,352.0" stroke="#000" stroke-width="2.6" fill="none"/>
<rect x="1436" y="352.0" width="37.50" height="3.80" fill="#000"/>
<rect x="1436" y="361.0" width="37.50" height="4.00" fill="#000"/>
<polyline points="1454.8,365.0 1454.8,383.8" stroke="#000" stroke-width="2.6" fill="none"/>
<polyline points="1454.8,383.8 1454.8,414.6" stroke="#3a3a3a" stroke-width="1.3" fill="none"/>
<circle cx="1454.8" cy="414.6" r="2.4" fill="#111"/>
<polyline points="1522.0,352.1 1506.6,352.1 1506.6,414.6 1237.4,414.6 1237.4,371.6" stroke="#3a3a3a" stroke-width="1.3" fill="none"/>
<circle cx="1237.4" cy="345.75" r="16.8" fill="none" stroke="#000" stroke-width="2"/>
<path d="M1237.4,319.8 V328.95 M1237.4,362.55 V371.6" stroke="#000" stroke-width="2.1"/>
<path d="M1232.8000000000002,335.85 h9.2 M1237.4,331.25 v9.2" stroke="#000" stroke-width="1.9"/>
<path d="M1232.8000000000002,354.15 h9.2" stroke="#000" stroke-width="2.1"/>
<rect x="1529.1" y="336.2" width="14.30" height="23.20" fill="#000"/>
<path d="M1542.9,337.9 L1562.0,325.70000000000005 L1562.0,369.09999999999997 L1542.9,357.7" fill="none" stroke="#000" stroke-width="3.4" stroke-linejoin="miter" stroke-miterlimit="10"/>
<polyline points="1521.6,343.4 1529.1,343.4" stroke="#000" stroke-width="2.6" fill="none"/>
<polyline points="1521.6,352.1 1529.1,352.1" stroke="#000" stroke-width="2.6" fill="none"/>
<path d="M1521.65,337.6 h5.2 M1524.25,335.0 v5.2" stroke="#333" stroke-width="0.9"/>
<polyline points="1237.4,547.7 1237.4,501.5 1333.7,501.5" stroke="#3a3a3a" stroke-width="1.3" fill="none"/>
<circle cx="1333.7" cy="501.5" r="2.4" fill="#111"/>
<polyline points="1333.7,484.9 1333.7,526.2" stroke="#3a3a3a" stroke-width="1.3" fill="none"/>
<polyline points="1333.7,484.9 1356.1,484.9" stroke="#3a3a3a" stroke-width="1.3" fill="none"/>
<path d="M1356.1,484.9 V452.1 C1356.1,446.6 1358.6,445.1 1361.7,445.1 L1362.67,445.15 1363.63,445.31 1364.58,445.57 1365.51,445.94 1366.40,446.40 1367.25,446.95 1368.06,447.59 1368.82,448.31 1369.52,449.10 1370.16,449.95 1370.73,450.85 1371.24,451.80 1371.66,452.78 1372.02,453.79 1372.30,454.80 1372.50,455.81 1372.62,456.82 1372.67,457.80 1372.65,458.75 1372.56,459.65 1372.40,460.50 1372.18,461.29 1371.90,462.01 1371.57,462.65 1371.20,463.20 1370.78,463.66 1370.34,464.03 1369.87,464.29 1369.39,464.45 1368.89,464.50 1368.40,464.45 1367.92,464.29 1367.45,464.03 1367.01,463.66 1366.59,463.20 1366.22,462.65 1365.89,462.01 1365.61,461.29 1365.39,460.50 1365.23,459.65 1365.14,458.75 1365.11,457.80 1365.16,456.82 1365.29,455.81 1365.49,454.80 1365.77,453.79 1366.12,452.78 1366.55,451.80 1367.06,450.85 1367.63,449.95 1368.27,449.10 1368.97,448.31 1369.73,447.59 1370.54,446.95 1371.39,446.40 1372.28,445.94 1373.21,445.57 1374.15,445.31 1375.12,445.15 1376.09,445.10 1377.06,445.15 1378.02,445.31 1378.97,445.57 1379.89,445.94 1380.79,446.40 1381.64,446.95 1382.45,447.59 1383.21,448.31 1383.91,449.10 1384.55,449.95 1385.12,450.85 1385.62,451.80 1386.05,452.78 1386.41,453.79 1386.69,454.80 1386.89,455.81 1387.01,456.82 1387.06,457.80 1387.04,458.75 1386.95,459.65 1386.79,460.50 1386.57,461.29 1386.29,462.01 1385.96,462.65 1385.58,463.20 1385.17,463.66 1384.73,464.03 1384.26,464.29 1383.77,464.45 1383.28,464.50 1382.79,464.45 1382.31,464.29 1381.84,464.03 1381.39,463.66 1380.98,463.20 1380.61,462.65 1380.28,462.01 1380.00,461.29 1379.78,460.50 1379.62,459.65 1379.53,458.75 1379.50,457.80 1379.55,456.82 1379.68,455.81 1379.88,454.80 1380.16,453.79 1380.51,452.78 1380.94,451.80 1381.44,450.85 1382.02,449.95 1382.66,449.10 1383.36,448.31 1384.11,447.59 1384.92,446.95 1385.78,446.40 1386.67,445.94 1387.59,445.57 1388.54,445.31 1389.51,445.15 1390.48,445.10 1391.45,445.15 1392.41,445.31 1393.36,445.57 1394.28,445.94 1395.18,446.40 1396.03,446.95 1396.84,447.59 1397.60,448.31 1398.30,449.10 1398.94,449.95 1399.51,450.85 1400.01,451.80 1400.44,452.78 1400.80,453.79 1401.07,454.80 1401.28,455.81 1401.40,456.82 1401.45,457.80 1401.43,458.75 1401.34,459.65 1401.18,460.50 1400.95,461.29 1400.68,462.01 1400.35,462.65 1399.97,463.20 1399.56,463.66 1399.11,464.03 1398.65,464.29 1398.16,464.45 1397.67,464.50 1397.18,464.45 1396.70,464.29 1396.23,464.03 1395.78,463.66 1395.37,463.20 1395.00,462.65 1394.67,462.01 1394.39,461.29 1394.17,460.50 1394.01,459.65 1393.91,458.75 1393.89,457.80 1393.94,456.82 1394.07,455.81 1394.27,454.80 1394.55,453.79 1394.90,452.78 1395.33,451.80 1395.83,450.85 1396.41,449.95 1397.04,449.10 1397.75,448.31 1398.50,447.59 1399.31,446.95 1400.17,446.40 1401.06,445.94 1401.98,445.57 1402.93,445.31 1403.89,445.15 1404.87,445.10 C1407.5,445.1 1410,446.6 1410,452.1 V484.9" fill="none" stroke="#000" stroke-width="2.5" stroke-linejoin="round"/>
<polyline points="1410.0,484.9 1432.5,484.9" stroke="#3a3a3a" stroke-width="1.3" fill="none"/>
<polyline points="1333.7,526.2 1356.7,526.2" stroke="#3a3a3a" stroke-width="1.3" fill="none"/>
<polyline points="1356.7,526.2 1376.9,526.2" stroke="#000" stroke-width="2.6" fill="none"/>
<rect x="1376.9" y="507.8" width="4.00" height="35.40" fill="#000"/>
<rect x="1384.5" y="507.8" width="4.00" height="35.40" fill="#000"/>
<polyline points="1388.5,526.2 1409.7,526.2" stroke="#000" stroke-width="2.6" fill="none"/>
<polyline points="1409.7,526.2 1432.5,526.2" stroke="#3a3a3a" stroke-width="1.3" fill="none"/>
<polyline points="1432.5,484.9 1432.5,526.2" stroke="#3a3a3a" stroke-width="1.3" fill="none"/>
<circle cx="1432.5" cy="501.5" r="2.4" fill="#111"/>
<polyline points="1432.5,501.5 1506.1,501.5 1506.1,566.4 1522.0,566.4" stroke="#3a3a3a" stroke-width="1.3" fill="none"/>
<circle cx="1454.8" cy="501.5" r="2.4" fill="#111"/>
<polyline points="1454.8,501.5 1454.8,555.6" stroke="#3a3a3a" stroke-width="1.3" fill="none"/>
<polyline points="1454.8,555.6 1454.8,575.0" stroke="#000" stroke-width="2.6" fill="none"/>
<rect x="1436" y="575.0" width="37.50" height="3.80" fill="#000"/>
<rect x="1436" y="584.0" width="37.50" height="4.00" fill="#000"/>
<polyline points="1454.8,588.0 1454.8,606.8" stroke="#000" stroke-width="2.6" fill="none"/>
<polyline points="1454.8,606.8 1454.8,639.7" stroke="#3a3a3a" stroke-width="1.3" fill="none"/>
<circle cx="1454.8" cy="639.7" r="2.4" fill="#111"/>
<polyline points="1522.0,575.1 1506.6,575.1 1506.6,639.7 1237.4,639.7 1237.4,599.1" stroke="#3a3a3a" stroke-width="1.3" fill="none"/>
<circle cx="1237.4" cy="573.25" r="16.8" fill="none" stroke="#000" stroke-width="2"/>
<path d="M1237.4,547.3 V556.45 M1237.4,590.05 V599.1" stroke="#000" stroke-width="2.1"/>
<path d="M1232.8000000000002,563.35 h9.2 M1237.4,558.75 v9.2" stroke="#000" stroke-width="1.9"/>
<path d="M1232.8000000000002,581.65 h9.2" stroke="#000" stroke-width="2.1"/>
<rect x="1529.1" y="559.4" width="14.30" height="23.20" fill="#000"/>
<path d="M1542.9,561.1 L1561.8,549.5 L1561.8,592.6999999999999 L1542.9,580.9" fill="none" stroke="#000" stroke-width="3.4" stroke-linejoin="miter" stroke-miterlimit="10"/>
<polyline points="1521.6,566.4 1529.1,566.4" stroke="#000" stroke-width="2.6" fill="none"/>
<polyline points="1521.6,575.1 1529.1,575.1" stroke="#000" stroke-width="2.6" fill="none"/>
<path d="M1521.65,561.3 h5.2 M1524.25,558.6999999999999 v5.2" stroke="#333" stroke-width="0.9"/>
<text x="1337.79" y="64.83" font-family="'Liberation Sans', sans-serif" font-size="10.64" fill="#1a1a1a" textLength="15.60" lengthAdjust="spacingAndGlyphs">C1</text>
<text x="1326.07" y="84.33" font-family="'Liberation Sans', sans-serif" font-size="13.79" fill="#1a1a1a" textLength="36.23" lengthAdjust="spacingAndGlyphs">8,2µF</text>
<text x="1465.21" y="64.83" font-family="'Liberation Sans', sans-serif" font-size="10.64" fill="#1a1a1a" textLength="15.12" lengthAdjust="spacingAndGlyphs">C2</text>
<text x="1456.97" y="84.33" font-family="'Liberation Sans', sans-serif" font-size="13.79" fill="#1a1a1a" textLength="31.68" lengthAdjust="spacingAndGlyphs">10µF</text>
<text x="1445.87" y="132.62" font-family="'Liberation Sans', sans-serif" font-size="12.83" fill="#1a1a1a" textLength="11.52" lengthAdjust="spacingAndGlyphs">L1</text>
<text x="1428.40" y="149.82" font-family="'Liberation Sans', sans-serif" font-size="12.21" fill="#1a1a1a" textLength="50.73" lengthAdjust="spacingAndGlyphs">0,220mH</text>
<text x="1322.86" y="226.32" font-family="'Liberation Sans', sans-serif" font-size="12.93" fill="#1a1a1a" textLength="13.05" lengthAdjust="spacingAndGlyphs">L2</text>
<text x="1311.03" y="243.92" font-family="'Liberation Sans', sans-serif" font-size="12.21" fill="#1a1a1a" textLength="38.22" lengthAdjust="spacingAndGlyphs">1,3mH</text>
<text x="1348.93" y="331.43" font-family="'Liberation Sans', sans-serif" font-size="12.79" fill="#1a1a1a" textLength="22.25" lengthAdjust="spacingAndGlyphs">CP2</text>
<text x="1340.43" y="351.12" font-family="'Liberation Sans', sans-serif" font-size="12.36" fill="#1a1a1a" textLength="23.06" lengthAdjust="spacingAndGlyphs">0,56</text>
<text x="1364.41" y="351.12" font-family="'Liberation Sans', sans-serif" font-size="15.00" fill="#1a1a1a" textLength="16.78" lengthAdjust="spacingAndGlyphs">µF</text>
<text x="1414.33" y="382.12" font-family="'Liberation Sans', sans-serif" font-size="11.36" fill="#1a1a1a" textLength="14.56" lengthAdjust="spacingAndGlyphs">C3</text>
<text x="1403.13" y="402.52" font-family="'Liberation Sans', sans-serif" font-size="15.36" fill="#1a1a1a" textLength="38.30" lengthAdjust="spacingAndGlyphs">8,2µF</text>
<text x="1519.93" y="391.22" font-family="'Liberation Sans', sans-serif" font-size="12.79" fill="#1a1a1a" textLength="82.36" lengthAdjust="spacingAndGlyphs">SB17CAC35-8</text>
<text x="1316.52" y="455.52" font-family="'Liberation Sans', sans-serif" font-size="11.79" fill="#1a1a1a" textLength="13.60" lengthAdjust="spacingAndGlyphs">L3</text>
<text x="1304.27" y="472.72" font-family="'Liberation Sans', sans-serif" font-size="12.21" fill="#1a1a1a" textLength="38.99" lengthAdjust="spacingAndGlyphs">3,9mH</text>
<text x="1349.13" y="550.53" font-family="'Liberation Sans', sans-serif" font-size="13.21" fill="#1a1a1a" textLength="22.23" lengthAdjust="spacingAndGlyphs">CP3</text>
<text x="1339.08" y="570.73" font-family="'Liberation Sans', sans-serif" font-size="12.79" fill="#1a1a1a" textLength="25.39" lengthAdjust="spacingAndGlyphs">0,22</text>
<text x="1364.72" y="570.73" font-family="'Liberation Sans', sans-serif" font-size="16.01" fill="#1a1a1a" textLength="16.56" lengthAdjust="spacingAndGlyphs">µF</text>
<text x="1414.34" y="603.73" font-family="'Liberation Sans', sans-serif" font-size="12.36" fill="#1a1a1a" textLength="14.44" lengthAdjust="spacingAndGlyphs">C4</text>
<text x="1404.44" y="623.83" font-family="'Liberation Sans', sans-serif" font-size="15.36" fill="#1a1a1a" textLength="34.85" lengthAdjust="spacingAndGlyphs">27µF</text>
<text x="1519.03" y="613.93" font-family="'Liberation Sans', sans-serif" font-size="12.36" fill="#1a1a1a" textLength="82.66" lengthAdjust="spacingAndGlyphs">SB17CAC35-8</text>
<text x="1528.52" y="137.7" font-family="'Liberation Sans', sans-serif" font-size="12.21" fill="#1a1a1a" textLength="93.39" lengthAdjust="spacingAndGlyphs">SB26ADC-C000</text>
</svg>
</body></html>
